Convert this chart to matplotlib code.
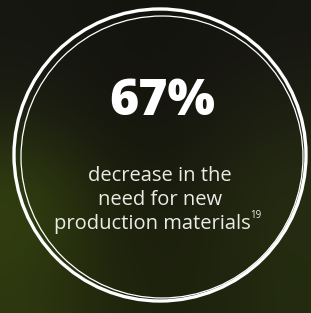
import numpy as np
import matplotlib.pyplot as plt
from matplotlib.patches import Circle

headline = "67%"
caption = ["decrease in the", "need for new", "production materials"]
footnote = "19"

W, H = 311, 313
fig = plt.figure(figsize=(W / 100, H / 100), dpi=100)
ax = fig.add_axes([0, 0, 1, 1])
ax.set_xlim(0, W)
ax.set_ylim(H, 0)
ax.axis("off")

# dark green background, lighter towards lower left
bg = np.array([
    [[0.09, 0.09, 0.07], [0.08, 0.08, 0.06], [0.08, 0.08, 0.06], [0.09, 0.09, 0.07]],
    [[0.11, 0.12, 0.07], [0.08, 0.08, 0.05], [0.09, 0.09, 0.06], [0.12, 0.13, 0.07]],
    [[0.21, 0.27, 0.06], [0.10, 0.11, 0.05], [0.11, 0.12, 0.06], [0.15, 0.18, 0.07]],
    [[0.18, 0.22, 0.06], [0.12, 0.14, 0.05], [0.11, 0.13, 0.05], [0.14, 0.17, 0.06]],
])
ax.imshow(bg, extent=[0, W, H, 0], interpolation="bicubic", aspect="auto", zorder=0)

ax.add_patch(Circle((160, 155), 146, fill=False, ec="white", lw=2.4, zorder=2))
ax.add_patch(Circle((162, 157), 141, fill=False, ec="white", lw=0.9, zorder=2))

ax.text(162, 102, headline, color="white", fontsize=36, fontweight="extra bold",
        family="Open Sans", ha="center", va="center", zorder=3)
txts = []
for i, line in enumerate(caption):
    txts.append(ax.text(152 if i == 2 else 160, 176 + 24 * i, line, color="#ecece6",
                        fontsize=14.5, family="Open Sans", ha="center", va="center",
                        zorder=3))

# footnote marker right after the last line
fig.canvas.draw()
bb = txts[-1].get_window_extent().transformed(ax.transData.inverted())
ax.text(bb.x1 - 0.5, 216, footnote, color="#ecece6", fontsize=7, family="Open Sans",
        ha="left", va="center", zorder=3)

fig.savefig("out.png", dpi=100)
